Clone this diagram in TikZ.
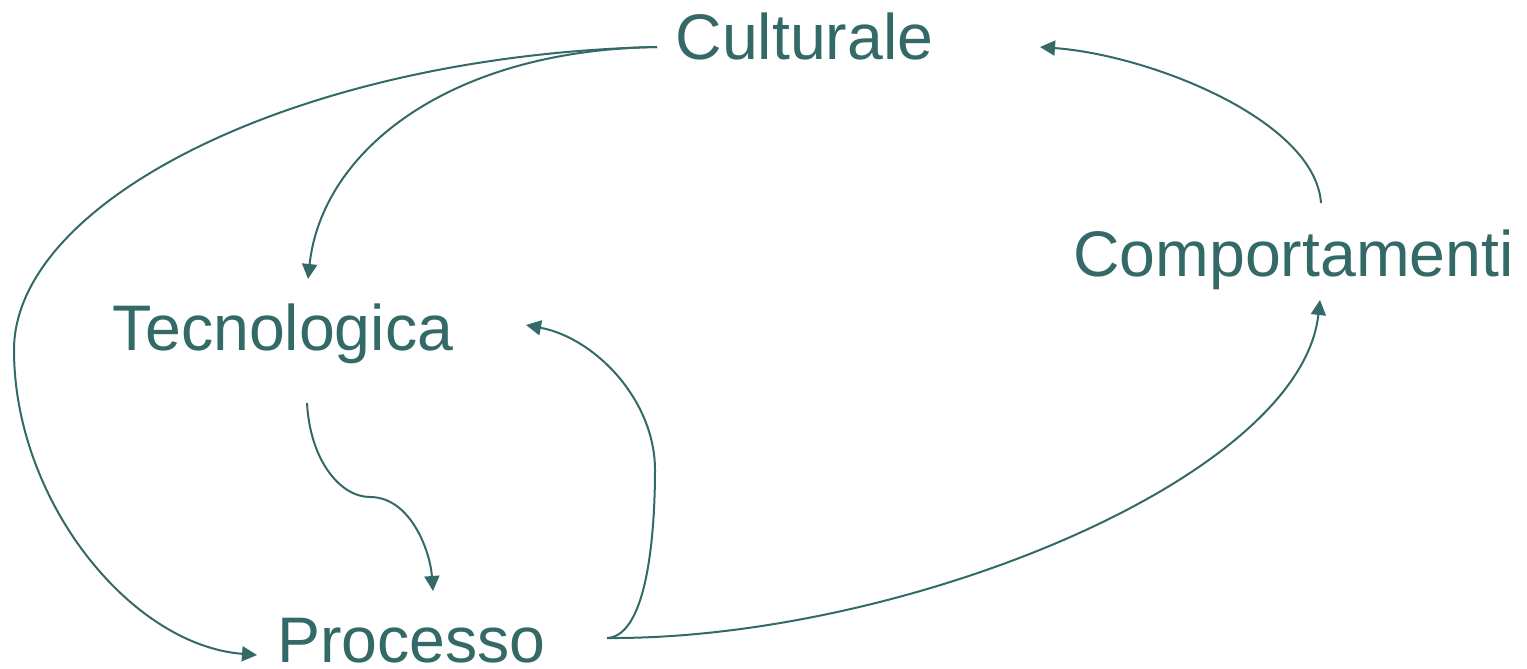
\documentclass[tikz,border=0pt]{standalone}
\usepackage{fontspec}
\setmainfont{Liberation Sans}
\usetikzlibrary{arrows.meta}
\definecolor{teal}{RGB}{51,105,102}
\begin{document}
\begin{tikzpicture}[x=0.5pt,y=-0.5pt,
  lbl/.style={anchor=base,inner sep=0pt,text=teal,font=\fontsize{32.2}{38}\selectfont},
  conn/.style={draw=teal,line width=1pt,-{Triangle[length=7.5pt,width=7.5pt]}}]
\useasboundingbox (0,0) rectangle (1527,669);
\node[lbl] (cult) at (804.5,59) {Culturale};
\node[lbl] (tecn) at (283,350) {Tecnologica};
\node[lbl] (proc) at (411.5,662) {Processo};
\node[lbl] (comp) at (1293.5,276) {Comportamenti};
\coordinate (cultOut) at (657,47);
\coordinate (cultIn) at (1040,47);
\coordinate (tecnIn) at (308,279);
\coordinate (tecnOut) at (307,403);
\coordinate (tecnIn2) at (526,325);
\coordinate (procIn) at (433,591);
\coordinate (procIn2) at (257,655);
\coordinate (procOut) at (607,638);
\coordinate (compIn) at (1320,300);
\coordinate (compOut) at (1321,203);
% Culturale -> Tecnologica
\draw[conn] (cultOut) .. controls (450,50) and (322,150) .. (tecnIn);
% Culturale -> Processo
\draw[conn] (cultOut) .. controls (300,55) and (14,200) .. (14,350) .. controls (14,500) and (130,645) .. (procIn2);
% Tecnologica -> Processo
\draw[conn] (tecnOut) .. controls (310,460) and (340,497) .. (370,497) .. controls (410,497) and (430,550) .. (procIn);
% Processo -> Tecnologica
\draw[conn] (procOut) .. controls (650,636) and (655,520) .. (655,470) .. controls (655,400) and (595,338) .. (tecnIn2);
% Processo -> Comportamenti
\draw[conn] (procOut) .. controls (900,640) and (1300,480) .. (compIn);
% Comportamenti -> Culturale
\draw[conn] (compOut) .. controls (1315,120) and (1150,55) .. (cultIn);
\end{tikzpicture}
\end{document}
